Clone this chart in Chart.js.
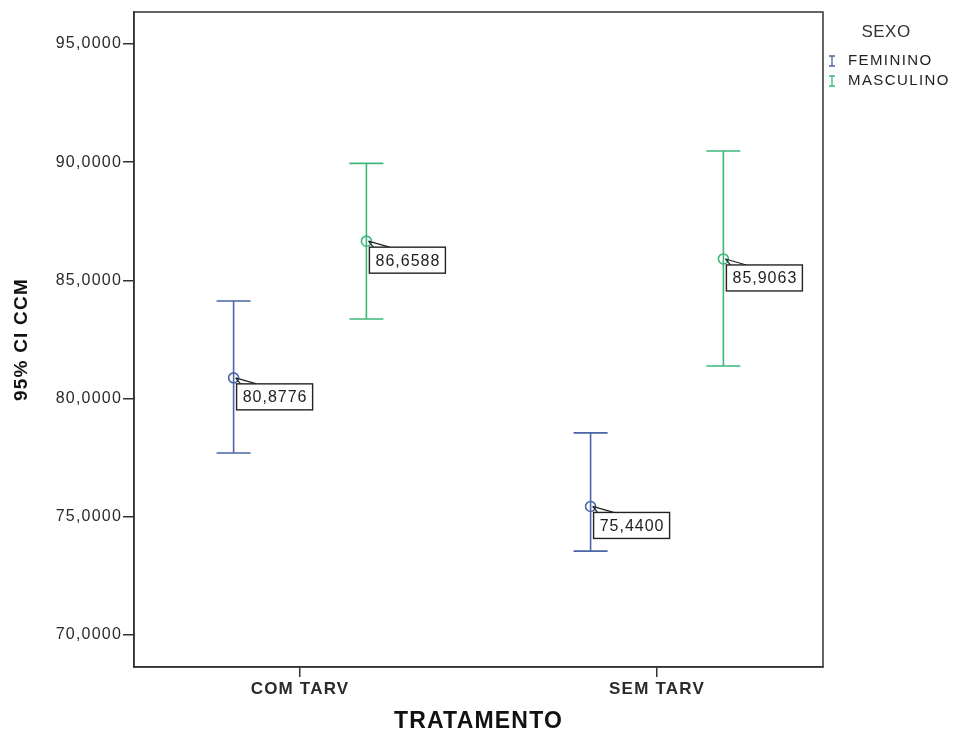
<!DOCTYPE html>
<html>
<head>
<meta charset="utf-8">
<script src="https://cdn.jsdelivr.net/npm/chart.js@4.4.1/dist/chart.umd.min.js"></script>
<style>
  html, body { margin: 0; padding: 0; background: #ffffff; }
  #wrap { width: 960px; height: 733px; position: relative; }
</style>
</head>
<body>
<div id="wrap"><canvas id="c" width="960" height="733"></canvas></div>
<script>
// Treatment groups on the x axis
const categories = ['COM TARV', 'SEM TARV'];
// Sex groups (legend)
const seriesNames = ['FEMININO', 'MASCULINO'];
// Mean CCM per group, with the 95% confidence interval bounds
const meanFeminino = [80.8776, 75.4400];
const lowerFeminino = [77.70, 73.55];
const upperFeminino = [84.13, 78.55];
const meanMasculino = [86.6588, 85.9063];
const lowerMasculino = [83.37, 81.38];
const upperMasculino = [89.95, 90.47];
// Y axis tick values
const yTicks = [70, 75, 80, 85, 90, 95];

const COLORS = ['#4a66a6', '#3db878'];
const DODGE = [-0.186, 0.186];
const AXIS_COLOR = '#333333';
const FONT = '"Liberation Sans", Arial, sans-serif';

const fmt = v => v.toFixed(4).replace('.', ',');

const groups = [
  { name: seriesNames[0], mean: meanFeminino, lo: lowerFeminino, hi: upperFeminino },
  { name: seriesNames[1], mean: meanMasculino, lo: lowerMasculino, hi: upperMasculino }
];

const datasets = groups.map((g, s) => ({
  label: g.name,
  data: g.mean.map((m, i) => ({ x: i + DODGE[s], y: m, lo: g.lo[i], hi: g.hi[i] })),
  borderColor: COLORS[s],
  backgroundColor: 'rgba(255,255,255,0)',
  pointStyle: 'circle',
  pointRadius: 5,
  pointBorderWidth: 1.6,
  showLine: false
}));

// Slightly wider tracking for the axis text
const tracking = {
  id: 'tracking',
  beforeDraw(chart) { chart.ctx.letterSpacing = '1.2px'; },
  afterDraw(chart) { chart.ctx.letterSpacing = '0px'; }
};

// Draws the CI whiskers behind the mean markers
const errorBars = {
  id: 'errorBars',
  beforeDatasetsDraw(chart) {
    const { ctx, scales: { x, y } } = chart;
    ctx.save();
    chart.data.datasets.forEach((ds) => {
      ctx.strokeStyle = ds.borderColor;
      ctx.lineWidth = 1.6;
      ds.data.forEach(p => {
        const px = x.getPixelForValue(p.x);
        const yHi = y.getPixelForValue(p.hi);
        const yLo = y.getPixelForValue(p.lo);
        ctx.beginPath();
        ctx.moveTo(px, yHi); ctx.lineTo(px, yLo);
        ctx.moveTo(px - 17, yHi); ctx.lineTo(px + 17, yHi);
        ctx.moveTo(px - 17, yLo); ctx.lineTo(px + 17, yLo);
        ctx.stroke();
      });
    });
    ctx.restore();
  }
};

// Frame around the plot, value callouts and the legend
const decorations = {
  id: 'decorations',
  afterDatasetsDraw(chart) {
    const { ctx, chartArea: a, scales: { x, y } } = chart;
    ctx.save();
    ctx.strokeStyle = AXIS_COLOR;
    ctx.lineWidth = 1.5;
    ctx.strokeRect(a.left, a.top, a.right - a.left, a.bottom - a.top);

    // Value callouts
    ctx.letterSpacing = '1px';
    ctx.font = '16px ' + FONT;
    ctx.textAlign = 'center';
    ctx.textBaseline = 'middle';
    chart.data.datasets.forEach(ds => {
      ds.data.forEach(p => {
        const px = x.getPixelForValue(p.x);
        const py = y.getPixelForValue(p.y);
        const bx = px + 3, by = py + 6, bw = 76, bh = 26;
        ctx.strokeStyle = '#222222';
        ctx.lineWidth = 1.2;
        ctx.beginPath();
        ctx.moveTo(px + 2, py);
        ctx.lineTo(bx + 4, by);
        ctx.moveTo(px + 2, py);
        ctx.lineTo(bx + 20, by);
        ctx.stroke();
        ctx.fillStyle = '#ffffff';
        ctx.fillRect(bx, by, bw, bh);
        ctx.lineWidth = 1.4;
        ctx.strokeRect(bx, by, bw, bh);
        ctx.fillStyle = '#1e1e1e';
        ctx.fillText(fmt(p.y), bx + bw / 2 + 0.5, by + bh / 2 + 1);
      });
    });

    // Legend
    ctx.fillStyle = '#333333';
    ctx.letterSpacing = '0.5px';
    ctx.font = '17px ' + FONT;
    ctx.textAlign = 'center';
    ctx.fillText('SEXO', 886, 32);
    ctx.letterSpacing = '1.4px';
    ctx.font = '15px ' + FONT;
    ctx.textAlign = 'left';
    seriesNames.forEach((n, i) => {
      const ly = 61 + i * 20;
      ctx.strokeStyle = COLORS[i];
      ctx.lineWidth = 1.3;
      ctx.beginPath();
      ctx.moveTo(832, ly - 5); ctx.lineTo(832, ly + 5);
      ctx.moveTo(829, ly - 5); ctx.lineTo(835, ly - 5);
      ctx.moveTo(829, ly + 5); ctx.lineTo(835, ly + 5);
      ctx.stroke();
      ctx.fillStyle = '#222222';
      ctx.fillText(n, 848, ly);
    });
    ctx.restore();
  }
};

new Chart(document.getElementById('c'), {
  type: 'scatter',
  data: { datasets },
  options: {
    responsive: false,
    animation: false,
    layout: { padding: { left: 0, right: 137, top: 12, bottom: 0 } },
    plugins: { legend: { display: false }, tooltip: { enabled: false } },
    scales: {
      x: {
        type: 'linear',
        min: -0.465,
        max: 1.465,
        afterBuildTicks(scale) { scale.ticks = categories.map((c, i) => ({ value: i })); },
        afterFit(scale) { scale.height = 66; },
        ticks: {
          callback: (v) => categories[v],
          color: '#2a2a2a',
          font: { family: FONT, size: 17, weight: 'bold' },
          padding: 2,
          maxRotation: 0
        },
        grid: { drawOnChartArea: false, drawTicks: true, tickLength: 10, color: AXIS_COLOR, lineWidth: 1.5 },
        border: { display: true, color: AXIS_COLOR, width: 1.5 },
        title: {
          display: true,
          text: 'TRATAMENTO',
          color: '#111111',
          font: { family: FONT, size: 23, weight: 'bold', lineHeight: 1 },
          padding: { top: 0, bottom: 0 }
        }
      },
      y: {
        min: 68.65,
        max: 96.35,
        afterBuildTicks(scale) { scale.ticks = yTicks.map(v => ({ value: v })); },
        afterFit(scale) { scale.width = 134; },
        ticks: {
          callback: (v) => fmt(v),
          color: '#2a2a2a',
          font: { family: FONT, size: 16 },
          padding: 1
        },
        grid: { drawOnChartArea: false, drawTicks: true, tickLength: 11, color: AXIS_COLOR, lineWidth: 1.5 },
        border: { display: true, color: AXIS_COLOR, width: 1.5 },
        title: {
          display: true,
          text: '95% CI CCM',
          color: '#111111',
          font: { family: FONT, size: 19, weight: 'bold', lineHeight: 1 },
          padding: { top: 12, bottom: 0 }
        }
      }
    }
  },
  plugins: [tracking, errorBars, decorations]
});
</script>
</body>
</html>
